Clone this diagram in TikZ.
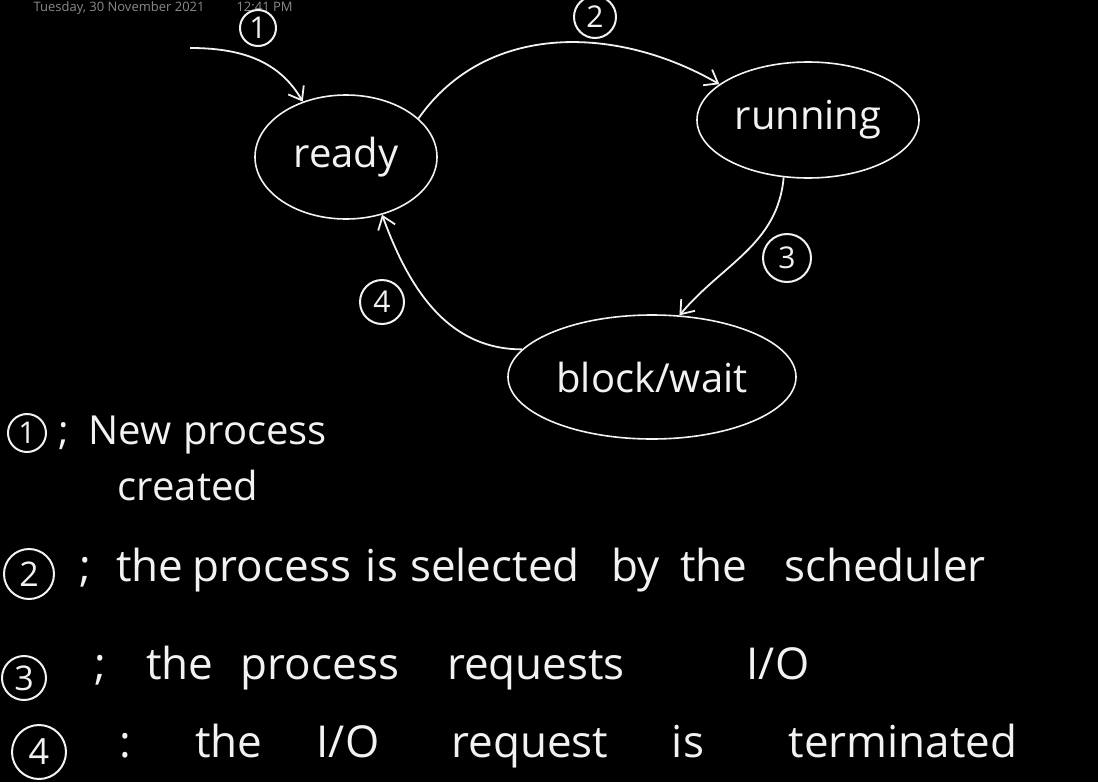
\documentclass[tikz,border=0pt]{standalone}
\usepackage{fontspec}
\setmainfont{Open Sans}
\usetikzlibrary{arrows.meta, positioning, shapes.geometric}
\definecolor{inkwhite}{HTML}{F2F2F2}
\definecolor{stampgray}{HTML}{8A8A8A}

\tikzset{
  state/.style={ellipse, draw=inkwhite, line width=1.6pt, text=inkwhite,
    inner sep=0pt, font=\fontsize{40}{46}\selectfont},
  step num/.style={circle, draw=inkwhite, line width=2pt, text=inkwhite,
    inner sep=2pt, font=\fontsize{30}{34}\selectfont},
  trans/.style={draw=inkwhite, line width=1.8pt,
    -{Straight Barb[length=12pt, width=18pt, line width=1.8pt]}},
  note/.style={anchor=base, text=inkwhite, font=\fontsize{44}{50}\selectfont}
}
\newcommand{\io}{I/O}

\begin{document}
\begin{tikzpicture}[x=1pt, y=-1pt]
  % canvas
  \fill[black] (0,0) rectangle (1098,782);
  \useasboundingbox (0,0) rectangle (1098,782);
  \clip (0,0) rectangle (1098,782);

  % date stamp
  \node[text=stampgray, font=\fontsize{13}{15}\selectfont, anchor=west] (stamp)
    at (30,8) {Tuesday, 30 November 2021\hspace{32pt}12:41 PM};

  % States
  \node[state, minimum width=182pt, minimum height=124pt] (ready)   at (346,157) {ready};
  \node[state, minimum width=222pt, minimum height=116pt] (running) at (808,120) {running};
  \node[state, minimum width=288pt, minimum height=124pt] (block)   at (652,377) {block/wait};

  % Transitions
  \coordinate (new) at (190,48);
  \draw[trans] (new) to[out=0, in=120] (ready.128);
  \draw[trans] (ready.28) to[out=55, in=150] (running.158);
  \draw[trans] (running.247) to[out=265, in=50] (block.66);
  \draw[trans] (block.168) to[out=180, in=290] (ready.302);

  % Step numbers
  \node[step num, minimum size=36pt] (n1) at (258,28)  {1};
  \node[step num, minimum size=42pt] (n2) at (595,17)  {2};
  \node[step num, minimum size=48pt] (n3) at (787,258) {3};
  \node[step num, minimum size=44pt] (n4) at (382,302) {4};

  % Legend
  \node[step num, minimum size=38pt] (l1) at (27,433) {1};
  \node[step num, minimum size=50pt, font=\fontsize{34}{38}\selectfont] (l2) at (29,574) {2};
  \node[step num, minimum size=44pt, font=\fontsize{34}{38}\selectfont] (l3) at (24,678) {3};
  \node[step num, minimum size=54pt, font=\fontsize{36}{40}\selectfont] (l4) at (39,752) {4};

  \foreach \w/\x [count=\i] in {;/64, New/130, process/255}
    \node[note, font=\fontsize{40}{46}\selectfont] (a\i) at (\x,444) {\w};
  \node[note, font=\fontsize{40}{46}\selectfont] (a4) at (188,500) {created};

  \foreach \w/\x [count=\i] in {;/85, the/150, process/272, is/382, selected/495,
      by/636, the/714, scheduler/885}
    \node[note] (b\i) at (\x,581) {\w};

  \foreach \w/\x [count=\i] in {;/100, the/180, process/320, requests/536, \io/778}
    \node[note] (c\i) at (\x,679) {\w};

  \foreach \w/\x [count=\i] in {:/125, the/229, \io/348, request/530, is/688,
      terminated/903}
    \node[note] (d\i) at (\x,757) {\w};
\end{tikzpicture}
\end{document}
